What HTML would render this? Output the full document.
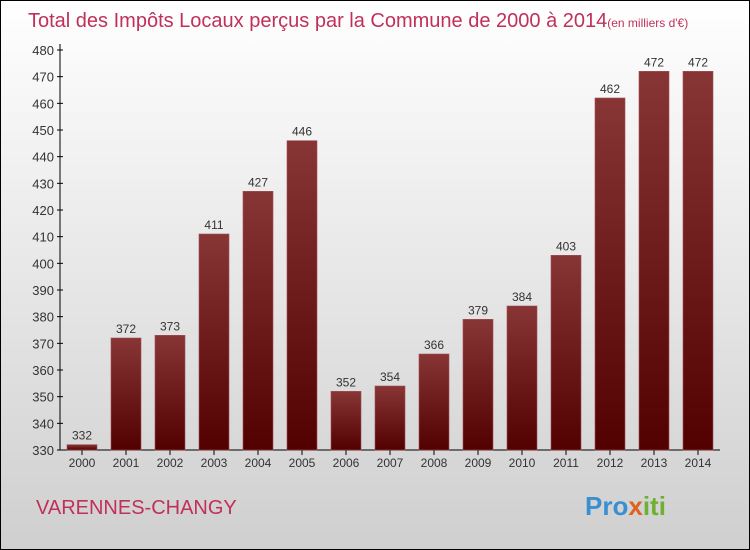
<!DOCTYPE html>
<html><head><meta charset="utf-8"><style>
body{margin:0;width:750px;height:550px;overflow:hidden}
svg{display:block;font-family:"Liberation Sans",sans-serif}
</style></head><body>
<svg id="c" width="750" height="550">
<defs>
<linearGradient id="bg" x1="0" y1="0" x2="0" y2="1"><stop offset="0" stop-color="#ffffff"/><stop offset="1" stop-color="#cfcfcf"/></linearGradient>
<linearGradient id="bar" x1="0" y1="0" x2="0" y2="1"><stop offset="0" stop-color="#883535"/><stop offset="1" stop-color="#520000"/></linearGradient>
</defs>
<rect x="0.5" y="0.5" width="749" height="549" fill="url(#bg)" stroke="#000"/>
<text x="28" y="27" font-size="20" fill="#c0305a">Total des Impôts Locaux perçus par la Commune de 2000 à 2014<tspan font-size="12">(en milliers d'€)</tspan></text>
<text x="36" y="514" font-size="20" fill="#c0305a">VARENNES-CHANGY</text>
<text x="585" y="515" font-size="26" font-weight="bold" fill="#e08020"><tspan fill="#3a8fd0">Pro</tspan><tspan fill="#e06020">x</tspan><tspan fill="#70b030">iti</tspan></text>
<g id="axes"></g><g id="bars"></g>
</svg>
<script>
const categories=["2000","2001","2002","2003","2004","2005","2006","2007","2008","2009","2010","2011","2012","2013","2014"];
const values=[332,372,373,411,427,446,352,354,366,379,384,403,462,472,472];
const yTicks=[330,340,350,360,370,380,390,400,410,420,430,440,450,460,470,480];
const NS="http://www.w3.org/2000/svg";
const y=v=>450-(v-330)*400/150;
const x=i=>82+i*44;
function mk(t,a,p){const e=document.createElementNS(NS,t);for(const k in a)e.setAttribute(k,a[k]);p.appendChild(e);return e;}
const ax=document.getElementById('axes'),bg=document.getElementById('bars');
const yl=mk('line',{x1:60,y1:44,x2:60,y2:450,stroke:'#000'},ax);


const xl=mk('line',{x1:60,y1:450,x2:720,y2:450,stroke:'#000'},ax);


yTicks.forEach(v=>{
 mk('line',{x1:57,x2:63,y1:y(v),y2:y(v),stroke:'#000'},ax);
 const t=mk('text',{x:54,y:y(v)+5,'text-anchor':'end','font-size':13,fill:'#333'},ax);t.textContent=v;
 
 
});
categories.forEach((c,i)=>{
 mk('line',{x1:x(i),x2:x(i),y1:450,y2:455,stroke:'#000'},ax);
 const t=mk('text',{x:x(i),y:467,'text-anchor':'middle','font-size':12,fill:'#333'},ax);t.textContent=c;
 
 
 const r=mk('rect',{x:x(i)-15,y:y(values[i]),width:30,height:450-y(values[i]),fill:'url(#bar)',stroke:'#a05050','stroke-width':0.6},bg);
 
 
 const l=mk('text',{x:x(i),y:y(values[i])-5,'text-anchor':'middle','font-size':12,fill:'#333'},bg);l.textContent=values[i];
 
 
});
</script>
</body></html>
